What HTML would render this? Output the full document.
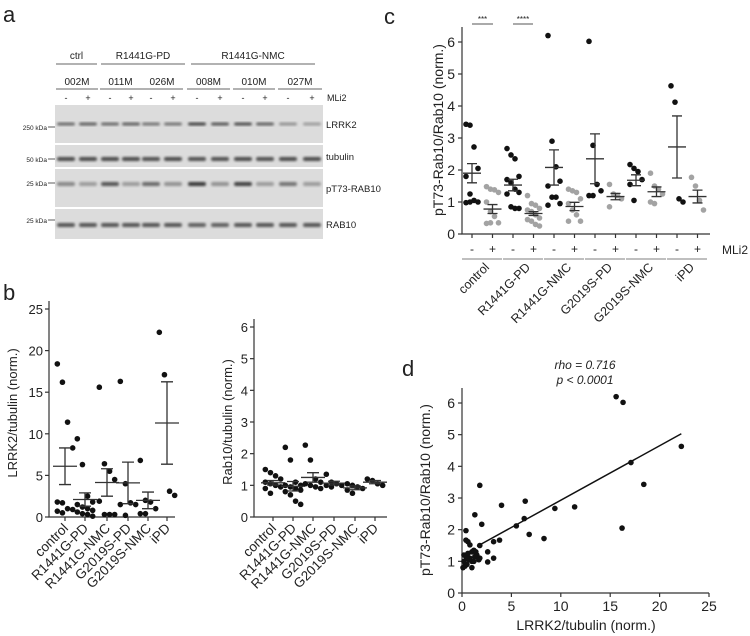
<!DOCTYPE html>
<html><head><meta charset="utf-8">
<style>
body{margin:0;background:#fff;}
svg{display:block;font-family:"Liberation Sans",Arial,sans-serif;}
text{fill:#222;}
</style></head>
<body>
<svg id="fig" width="750" height="636" viewBox="0 0 750 636" xmlns="http://www.w3.org/2000/svg">
<defs><filter id="blur" x="-20%" y="-50%" width="140%" height="200%"><feGaussianBlur stdDeviation="1.3"/></filter></defs>
<g id="pa"></g>
<g id="pb1"></g>
<g id="pb2"></g>
<g id="pc"></g>
<g id="pd"></g>
</svg>
<script>
// ---------- data ----------
const groups = ["control","R1441G-PD","R1441G-NMC","G2019S-PD","G2019S-NMC","iPD"];
// panel b left: LRRK2/tubulin
const lrrkVals = [
 [18.4,16.2,11.4,8.3,1.8,1.7,1.0,0.9,0.7,0.5],
 [9.4,6.3,2.5,1.8,1.5,1.2,1.0,0.8,0.6,0.4,0.3,0.1],
 [15.6,6.4,5.5,4.5,1.9,0.3,0.3,0.3],
 [16.3,4.0,1.7,1.5,1.5,0.2],
 [6.8,2.0,1.8,1.0,0.4,0.4],
 [22.2,17.1,3.1,2.6]];
const lrrkMean = [6.1,2.1,4.15,4.1,2.0,11.3];
const lrrkSem = [2.2,0.8,1.65,2.5,1.0,4.95];
const lrrkTicks = [0,5,10,15,20,25];
// panel b right: Rab10/tubulin
const rabVals = [
 [1.5,1.4,1.3,1.2,1.1,1.05,1.0,0.95,0.9,0.75],
 [2.2,1.8,1.1,1.0,1.0,0.95,0.9,0.85,0.8,0.7,0.5,0.4],
 [2.27,1.8,1.2,1.1,1.05,1.0,0.95,0.9],
 [1.35,1.1,1.05,1.0,1.0,0.95],
 [1.05,1.0,0.95,0.9,0.85,0.75],
 [1.2,1.15,1.05,1.0]];
const rabMean = [1.08,0.97,1.25,1.07,0.92,1.1];
const rabSem = [0.07,0.15,0.15,0.06,0.06,0.05];
const rabTicks = [0,1,2,3,4,5,6];
// panel c: pT73-Rab10/Rab10, minus / plus MLi2
const pMinus = [
 [3.43,3.4,2.72,2.05,1.8,1.25,1.05,1.0,0.98,1.0],
 [2.67,2.47,2.35,1.8,1.7,1.6,1.4,1.3,1.25,0.85,0.8,0.8],
 [6.2,2.9,2.1,1.65,1.5,1.15,1.15,0.95,0.9],
 [6.02,2.77,1.55,1.35,1.2,1.2],
 [2.17,2.05,1.95,1.7,1.55,1.05],
 [4.63,4.12,1.1,1.0]];
const pPlus = [
 [1.48,1.4,1.38,1.3,1.0,0.7,0.55,0.35,0.33,0.35],
 [1.2,0.95,0.9,0.8,0.75,0.7,0.6,0.5,0.45,0.4,0.3,0.25],
 [1.4,1.35,1.3,1.1,0.95,0.75,0.6,0.4,0.4],
 [1.55,1.25,1.2,1.1,0.85],
 [1.9,1.5,1.4,1.25,1.0,0.95],
 [1.77,1.5,1.05,0.75]];
const pMinusMean = [1.9,1.53,2.08,2.35,1.68,2.72];
const pMinusSem = [0.3,0.18,0.55,0.78,0.17,0.97];
const pPlusMean = [0.78,0.64,0.86,1.17,1.32,1.17];
const pPlusSem = [0.14,0.06,0.13,0.1,0.15,0.2];
const cTicks = [0,1,2,3,4,5,6];
// panel d: scatter
const dX = [15.6,16.3,22.2,17.1,18.4,16.2,11.4,9.4,8.3,6.8,6.4,6.3,5.5,4.0,3.8,3.2,3.2,2.6,2.6,1.8,2.0,1.3,1.8,1.8,1.7,0.4,0.4,0.6,0.8,1.0,1.2,1.4,0.2,0.4,0.6,0.8,1.0,1.0,1.5,0.1,0.3,0.5,0.2,0.7,1.2,1.3,0.5];
const dY = [6.2,6.02,4.63,4.12,3.43,2.05,2.72,2.67,1.72,1.85,2.9,2.35,2.12,2.77,1.67,1.62,1.1,1.3,0.98,3.4,2.17,2.47,1.5,1.1,1.05,1.97,1.67,1.62,1.52,1.3,1.35,1.3,1.2,1.15,1.25,1.1,1.0,0.8,1.2,0.8,0.85,0.9,1.0,1.05,1.0,1.15,1.1];
const fitLine = {x0:1.52, x1:22.2, intercept:1.21, slope:0.172};
const dXTicks = [0,5,10,15,20,25];
const dYTicks = [0,1,2,3,4,5,6];
// panel a: blot
const blotGroups = ["ctrl","R1441G-PD","R1441G-NMC"];
const blotSamples = ["002M","011M","026M","008M","010M","027M"];
const blotRows = ["LRRK2","tubulin","pT73-RAB10","RAB10"];
const blotKda = ["250 kDa","50 kDa","25 kDa","25 kDa"];
const lrrkBand = [0.6,0.65,0.6,0.65,0.55,0.55,0.8,0.7,0.75,0.65,0.4,0.35];
const tubBand = [0.75,0.75,0.75,0.75,0.72,0.75,0.72,0.72,0.75,0.72,0.75,0.75];
const ptBand = [0.45,0.35,0.7,0.35,0.6,0.4,0.85,0.4,0.8,0.35,0.55,0.35];
const rabBand = [0.7,0.7,0.7,0.7,0.7,0.7,0.65,0.65,0.7,0.7,0.7,0.7];

const NS="http://www.w3.org/2000/svg";
function mk(parent,tag,attrs,txt){const e=document.createElementNS(NS,tag);for(const k in attrs)e.setAttribute(k,attrs[k]);if(txt!==undefined)e.textContent=txt;parent.appendChild(e);return e;}
function jit(i){return ((i%4)-1.5)*3.2;}

// ---------- panel a ----------
(function(){
 const g=document.getElementById('pa');
 let t=mk(g,'text',{x:3,y:22,'font-size':22},'a');
 
 const lanes=[66,88,110,131,151,173,197,220,243,265,288,312];
 const gSpan=[[56,97],[101,185],[191,315]];
 blotGroups.forEach((s,i)=>{
  let tt=mk(g,'text',{x:(gSpan[i][0]+gSpan[i][1])/2,y:59,'font-size':10,'text-anchor':'middle'},s);
  
  let l=mk(g,'line',{x1:gSpan[i][0],x2:gSpan[i][1],y1:64,y2:64,stroke:'#333','stroke-width':0.8});
  
 });
 blotSamples.forEach((s,i)=>{
  const a=lanes[2*i]-10,b=lanes[2*i+1]+10;
  let tt=mk(g,'text',{x:(a+b)/2,y:85,'font-size':10,'text-anchor':'middle'},s);
  
  let l=mk(g,'line',{x1:a,x2:b,y1:89,y2:89,stroke:'#333','stroke-width':0.8});
  
 });
 lanes.forEach((x,i)=>{
  let tt=mk(g,'text',{x:x,y:101,'font-size':9,'text-anchor':'middle'},i%2?'+':'-');
  
 });
 let m=mk(g,'text',{x:327,y:101,'font-size':9},'MLi2');
 
 const rows=[[105,143,124,lrrkBand,3],[145,167,159,tubBand,4],[169,207,184,ptBand,4],[209,239,225,rabBand,4]];
 const kdaY=[127,159,183,220];
 rows.forEach((r,ri)=>{
  let bg=mk(g,'rect',{x:55,y:r[0],width:268,height:r[1]-r[0],fill:'#dcdcdc'});
  
  r[3].forEach((v,i)=>{
   const c=Math.round(225-200*v);
   let b=mk(g,'rect',{x:lanes[i]-9,y:r[2]-r[4]/2,width:18,height:r[4],rx:2,fill:`rgb(${c},${c},${c})`,filter:'url(#blur)'});
   
  });
  let lab=mk(g,'text',{x:326,y:(r[0]+r[1])/2+4,'font-size':9.5},blotRows[ri]);
  
  let k=mk(g,'text',{x:47,y:kdaY[ri]+3,'font-size':6.5,'text-anchor':'end'},blotKda[ri]);
  
  let kl=mk(g,'line',{x1:48,x2:55,y1:kdaY[ri],y2:kdaY[ri],stroke:'#333','stroke-width':0.8});
  
 });
})();

// ---------- generic dot chart ----------
function dotChart(g,opt){
 const {x0,x1,y0,yTop,vmax,ticks,vals,means,sems,catX,ylabel,ylx}=opt;
 const sy=v=>y0-(v/vmax)*(y0-yTop);
 let ax=mk(g,'path',{d:`M${x0},${yTop-8}V${y0}H${x1}`,fill:'none',stroke:'#333','stroke-width':1.2});
 
 ticks.forEach(t=>{
  let l=mk(g,'line',{x1:x0-4,x2:x0,y1:sy(t),y2:sy(t),stroke:'#333','stroke-width':1.2});
  
  let tx=mk(g,'text',{x:x0-6,y:sy(t)+5,'font-size':13,'text-anchor':'end'},t);
  
 });
 let yl=mk(g,'text',{x:ylx,y:(y0+yTop)/2,'font-size':13,'text-anchor':'middle',transform:`rotate(-90 ${ylx} ${(y0+yTop)/2})`},ylabel);
 
 groups.forEach((name,gi)=>{
  const cx=catX[gi];
  let tk=mk(g,'line',{x1:cx,x2:cx,y1:y0,y2:y0+4,stroke:'#333','stroke-width':1.2});
  
  let lb=mk(g,'text',{x:cx+4,y:y0+12,'font-size':13.5,'text-anchor':'end',transform:`rotate(-45 ${cx+4} ${y0+12})`},name);
  
  vals[gi].forEach((v,i)=>{
   let c=mk(g,'circle',{cx:cx+jit(i)*1.6,cy:sy(v),r:2.8,fill:'#111'});
   
  });
  const m=means[gi],s=sems[gi];
  let e=mk(g,'path',{d:`M${cx-12},${sy(m)}H${cx+12}M${cx-6},${sy(m+s)}H${cx+6}M${cx-6},${sy(m-s)}H${cx+6}M${cx},${sy(m+s)}V${sy(m-s)}`,stroke:'#333','stroke-width':1.3,fill:'none'});
  
 });
}
(function(){
 const g=document.getElementById('pb1');
 let t=mk(g,'text',{x:3,y:300,'font-size':22},'b');
 
 dotChart(g,{x0:49,x1:175,y0:517,yTop:309,vmax:25,ticks:lrrkTicks,vals:lrrkVals,means:lrrkMean,sems:lrrkSem,catX:[65,85,107,128,148,167],ylabel:'LRRK2/tubulin (norm.)',ylx:17});
 dotChart(document.getElementById('pb2'),{x0:254,x1:387,y0:517,yTop:327,vmax:6,ticks:rabTicks,vals:rabVals,means:rabMean,sems:rabSem,catX:[273,293,313,334,355,375],ylabel:'Rab10/tubulin (norm.)',ylx:232});
})();

// ---------- panel c ----------
(function(){
 const g=document.getElementById('pc');
 let t=mk(g,'text',{x:384,y:24,'font-size':22},'c');
 
 const x0=462,x1=710,y0=234,yTop=42;
 const sy=v=>y0-(v/6)*(y0-yTop);
 let ax=mk(g,'path',{d:`M${x0},27V${y0}H${x1}`,fill:'none',stroke:'#333','stroke-width':1.2});
 
 cTicks.forEach(v=>{
  let l=mk(g,'line',{x1:x0-4,x2:x0,y1:sy(v),y2:sy(v),stroke:'#333','stroke-width':1.2});
  
  let tx=mk(g,'text',{x:x0-7,y:sy(v)+5,'font-size':14,'text-anchor':'end'},v);
  
 });
 let yl=mk(g,'text',{x:443,y:130,'font-size':14,'text-anchor':'middle',transform:'rotate(-90 443 130)'},'pT73-Rab10/Rab10 (norm.)');
 
 let ml=mk(g,'text',{x:722,y:254,'font-size':12},'MLi2');
 
 const sets=[[pMinus,pMinusMean,pMinusSem,'#111','-'],[pPlus,pPlusMean,pPlusSem,'#a3a3a3','+']];
 groups.forEach((name,gi)=>{
  const base=472+gi*45;
  const b0=472+gi*41;
  sets.forEach((s,si)=>{
   const cx=b0+si*20.5;
   let tk=mk(g,'line',{x1:cx,x2:cx,y1:y0,y2:y0+4,stroke:'#333','stroke-width':1.2});
   
   let sg=mk(g,'text',{x:cx,y:253,'font-size':12,'text-anchor':'middle'},s[4]);
   
   s[0][gi].forEach((v,i)=>{
    let c=mk(g,'circle',{cx:cx+jit(i)*1.25,cy:sy(v),r:2.8,fill:s[3]});
    
   });
   const m=s[1][gi],e=s[2][gi];
   let b=mk(g,'path',{d:`M${cx-9},${sy(m)}H${cx+9}M${cx-5},${sy(m+e)}H${cx+5}M${cx-5},${sy(m-e)}H${cx+5}M${cx},${sy(m+e)}V${sy(m-e)}`,stroke:'#333','stroke-width':1.3,fill:'none'});
   
  });
  let gl=mk(g,'line',{x1:b0-10,x2:b0+30,y1:259,y2:259,stroke:'#555','stroke-width':0.8});
  
  const lx=b0+18,ly=268;
  let lb=mk(g,'text',{x:lx,y:ly,'font-size':12.5,'text-anchor':'end',transform:`rotate(-45 ${lx} ${ly})`},name);
  
 });
 [[472,493,'***'],[513,533,'****']].forEach(s=>{
  let l=mk(g,'line',{x1:s[0],x2:s[1],y1:24,y2:24,stroke:'#555','stroke-width':0.9});
  
  let tx=mk(g,'text',{x:(s[0]+s[1])/2,y:22,'font-size':8,'text-anchor':'middle'},s[2]);
  
 });
})();

// ---------- panel d ----------
(function(){
 const g=document.getElementById('pd');
 let t=mk(g,'text',{x:402,y:376,'font-size':22},'d');
 
 const x0=462,y0=593,xr=709,yTop=403;
 const sx=v=>x0+v/25*(xr-x0), sy=v=>y0-v/6*(y0-yTop);
 let ax=mk(g,'path',{d:`M${x0},388V${y0}H${xr}`,fill:'none',stroke:'#333','stroke-width':1.2});
 
 dYTicks.forEach(v=>{
  let l=mk(g,'line',{x1:x0-4,x2:x0,y1:sy(v),y2:sy(v),stroke:'#333','stroke-width':1.2});
  
  let tx=mk(g,'text',{x:x0-7,y:sy(v)+5,'font-size':14,'text-anchor':'end'},v);
  
 });
 dXTicks.forEach(v=>{
  let l=mk(g,'line',{x1:sx(v),x2:sx(v),y1:y0,y2:y0+4,stroke:'#333','stroke-width':1.2});
  
  let tx=mk(g,'text',{x:sx(v),y:y0+18,'font-size':14,'text-anchor':'middle'},v);
  
 });
 let xl=mk(g,'text',{x:586,y:630,'font-size':14,'text-anchor':'middle'},'LRRK2/tubulin (norm.)');
 
 let yl=mk(g,'text',{x:430,y:490,'font-size':14,'text-anchor':'middle',transform:'rotate(-90 430 490)'},'pT73-Rab10/Rab10 (norm.)');
 
 let r1=mk(g,'text',{x:585,y:369,'font-size':12,'font-style':'italic','text-anchor':'middle'},'rho = 0.716');
 
 let r2=mk(g,'text',{x:585,y:384,'font-size':12,'font-style':'italic','text-anchor':'middle'},'p < 0.0001');
 
 const f=fitLine;
 let fl=mk(g,'line',{x1:sx(f.x0),y1:sy(f.intercept+f.slope*f.x0),x2:sx(f.x1),y2:sy(f.intercept+f.slope*f.x1),stroke:'#111','stroke-width':1.5});
 
 dX.forEach((x,i)=>{
  let c=mk(g,'circle',{cx:sx(x),cy:sy(dY[i]),r:2.8,fill:'#111'});
  
 });
})();
</script>
</body></html>
